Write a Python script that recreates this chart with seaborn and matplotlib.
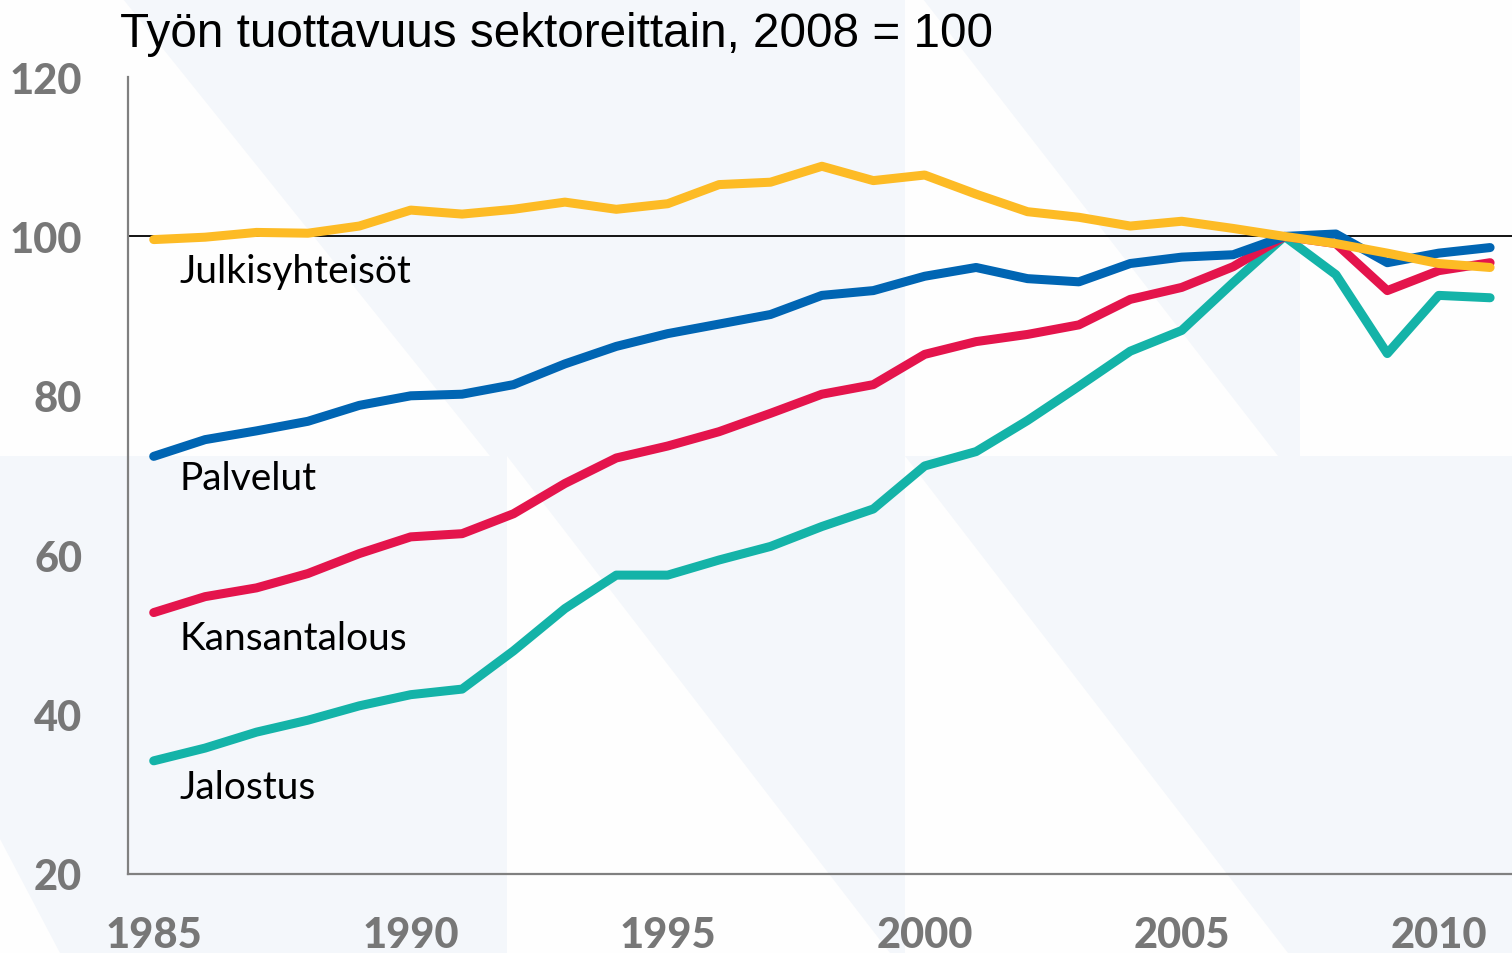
import numpy as np
import pandas as pd
import seaborn as sns
import matplotlib.pyplot as plt
from matplotlib.patches import Polygon

# Data (index, 2008 = 100)
years = list(range(1985, 2012))
julkisyhteisot = [99.6, 99.9, 100.5, 100.4, 101.3, 103.3, 102.8, 103.4, 104.3, 103.4,
                  104.1, 106.5, 106.8, 108.8, 107.0, 107.7, 105.3, 103.1, 102.4, 101.3,
                  101.9, 101.0, 100.0, 99.1, 97.9, 96.6, 96.1]
palvelut = [72.4, 74.5, 75.6, 76.8, 78.8, 80.0, 80.2, 81.4, 84.0, 86.2,
            87.8, 89.0, 90.2, 92.6, 93.2, 95.0, 96.1, 94.7, 94.3, 96.6,
            97.4, 97.7, 100.0, 100.3, 96.7, 97.9, 98.6]
kansantalous = [52.8, 54.8, 55.9, 57.7, 60.2, 62.3, 62.7, 65.2, 69.0, 72.2,
                73.7, 75.5, 77.8, 80.2, 81.4, 85.2, 86.8, 87.7, 88.9, 92.1,
                93.6, 96.2, 100.0, 99.1, 93.2, 95.7, 96.7]
jalostus = [34.2, 35.8, 37.8, 39.3, 41.1, 42.5, 43.2, 48.0, 53.3, 57.5,
            57.5, 59.4, 61.1, 63.6, 65.8, 71.2, 73.0, 76.9, 81.2, 85.6,
            88.2, 94.2, 100.0, 95.2, 85.3, 92.6, 92.3]

series_names = ["Jalostus", "Kansantalous", "Palvelut", "Julkisyhteisöt"]
series_values = [jalostus, kansantalous, palvelut, julkisyhteisot]
colors = ["#14B3A8", "#E4144C", "#0065B3", "#FDBB25"]
label_pos = {"Julkisyhteisöt": 95.6, "Palvelut": 69.7, "Kansantalous": 49.6, "Jalostus": 30.9}

title = "Työn tuottavuus sektoreittain, 2008 = 100"
y_ticks = [20, 40, 60, 80, 100, 120]
x_ticks = [1985, 1990, 1995, 2000, 2005, 2010]

sns.set_style("white")
plt.rcParams["font.family"] = ["Lato", "DejaVu Sans"]

W, H = 1512, 954
fig = plt.figure(figsize=(W / 100, H / 100), dpi=100)
fig.patch.set_facecolor("#F4F7FB")

# faint decorative background (white triangles over light blue)
def px_poly(pts):
    return Polygon([(x / W, 1 - y / H) for x, y in pts], closed=True,
                   transform=fig.transFigure, facecolor="#FEFEFE", edgecolor="none", zorder=-10)

for pts in [
    [(0, 0), (123, 0), (490, 457), (0, 457)],
    [(905, 0), (923, 0), (1278, 457), (905, 457)],
    [(1300, 0), (1512, 0), (1512, 457), (1300, 457)],
    [(507, 457), (507, 954), (890, 954)],
    [(905, 457), (905, 954), (1288, 954)],
    [(0, 840), (0, 954), (60, 954)],
]:
    fig.patches.append(px_poly(pts))

ax = fig.add_axes([128 / W, 1 - 875 / H, 1 - 128 / W, (875 - 78) / H])
ax.set_facecolor("none")

df = pd.DataFrame({"year": years})
ax.axhline(100, color="black", lw=1.3, zorder=1)
for name, vals, c in zip(series_names, series_values, colors):
    sns.lineplot(x=df["year"], y=vals, color=c, lw=6.5, ax=ax, zorder=3,
                 solid_capstyle="round", solid_joinstyle="round")
    ax.text(1985.5, label_pos[name], name, fontsize=28, color="black",
            va="center", ha="left")

ax.set_xlim(1984.5, 1984.5 + (W - 128) / 51.4)
ax.set_ylim(20, 120)
ax.set_xlabel("")
ax.set_ylabel("")

for s in ["top", "right"]:
    ax.spines[s].set_visible(False)
for s in ["left", "bottom"]:
    ax.spines[s].set_color("#808080")
    ax.spines[s].set_linewidth(1.6)

ax.set_yticks(y_ticks)
ax.set_yticks(np.arange(30, 120, 20), minor=True)
ax.set_xticks(x_ticks)
ax.set_xticks(np.arange(1985.5, 2011, 1), minor=True)
ax.tick_params(axis="y", which="both", direction="in", length=9.5, width=1.5,
               color="#808080", pad=33, labelsize=30, labelcolor="#777777")
ax.tick_params(axis="x", which="minor", direction="in", length=10, width=1.5,
               color="#808080")
ax.tick_params(axis="x", which="major", length=0, pad=30, labelsize=30,
               labelcolor="#777777")
for lab in ax.get_xticklabels() + ax.get_yticklabels():
    lab.set_fontweight(900)

fig.text(120 / W, 1 - 47 / H, title, fontsize=34.3, color="black", va="baseline",
         ha="left", family=["Liberation Sans", "DejaVu Sans"])

plt.savefig("out.png", dpi=100, facecolor=fig.get_facecolor())
plt.close()
